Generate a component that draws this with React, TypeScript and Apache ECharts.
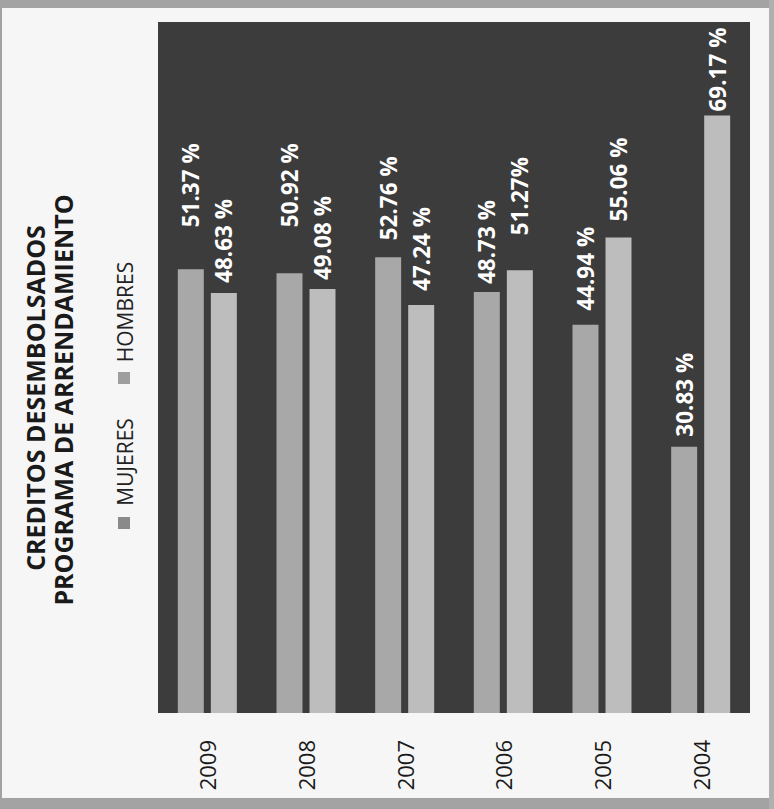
import React, { useEffect, useRef } from "react";
import * as echarts from "echarts";

const categories = ["2009", "2008", "2007", "2006", "2005", "2004"];
const mujeres = [51.37, 50.92, 52.76, 48.73, 44.94, 30.83];
const hombres = [48.63, 49.08, 47.24, 51.27, 55.06, 69.17];
const mujeresLabels = ["51.37 %", "50.92 %", "52.76 %", "48.73 %", "44.94 %", "30.83 %"];
const hombresLabels = ["48.63 %", "49.08 %", "47.24 %", "51.27%", "55.06 %", "69.17 %"];
const seriesNames = ["MUJERES", "HOMBRES"];
const titleLines = ["CREDITOS DESEMBOLSADOS", "PROGRAMA DE ARRENDAMIENTO"];

// label gap above each bar (layout only)
const mujeresGap = [42, 46, 17, 8, 14, 10];
const hombresGap = [10, 9, 14, 35, 16, 4];

const FONT = "'Open Sans', 'Noto Sans', sans-serif";
const COL_M = "#a8a8a8";
const COL_H = "#bdbdbd";

export default function App() {
  const ref = useRef<HTMLDivElement>(null);
  useEffect(() => {
    if (!ref.current) return;
    const chart = echarts.init(ref.current, undefined, { renderer: "svg" });
    const mkData = (vals: number[], labels: string[], gaps: number[]) =>
      vals.map((v, i) => ({
        value: v,
        label: { formatter: labels[i], distance: gaps[i] },
      }));
    const labelStyle = {
      show: true,
      position: "top",
      rotate: 90,
      align: "left",
      verticalAlign: "middle",
      color: "#ffffff",
      fontWeight: "bold",
      fontSize: 22.5,
      fontFamily: FONT,
    };
    chart.setOption({
      animation: false,
      backgroundColor: "#f6f6f6",
      grid: {
        left: 158,
        right: 24,
        top: 22,
        bottom: 96,
        show: true,
        backgroundColor: "#3c3c3c",
        borderWidth: 0,
      },
      xAxis: {
        type: "category",
        data: categories,
        axisLine: { show: false },
        axisTick: { show: false },
        axisLabel: {
          rotate: 90,
          margin: 27,
          fontSize: 22,
          fontFamily: FONT,
          color: "#1a1a1a",
        },
      },
      yAxis: {
        type: "value",
        min: 0,
        max: 80,
        show: false,
        splitLine: { show: false },
      },
      series: [
        {
          name: seriesNames[0],
          type: "bar",
          barWidth: 26,
          barGap: "27%",
          itemStyle: { color: COL_M },
          label: labelStyle,
          data: mkData(mujeres, mujeresLabels, mujeresGap),
        },
        {
          name: seriesNames[1],
          type: "bar",
          barWidth: 26,
          barGap: "27%",
          itemStyle: { color: COL_H },
          label: labelStyle,
          data: mkData(hombres, hombresLabels, hombresGap),
        },
      ],
      graphic: [
        { type: "rect", shape: { x: 0, y: 0, width: 774, height: 8 }, style: { fill: "#a3a3a3" }, silent: true },
        { type: "rect", shape: { x: 0, y: 798, width: 774, height: 11 }, style: { fill: "#a3a3a3" }, silent: true },
        { type: "rect", shape: { x: 0, y: 0, width: 2, height: 809 }, style: { fill: "#a3a3a3" }, silent: true },
        { type: "rect", shape: { x: 769, y: 0, width: 5, height: 809 }, style: { fill: "#b0b0b0" }, silent: true },
        {
          type: "text",
          x: 35,
          y: 398,
          rotation: Math.PI / 2,
          style: {
            text: titleLines[0],
            fill: "#1a1a1a",
            font: `bold 25px ${FONT}`,
            textAlign: "center",
            textVerticalAlign: "middle",
          },
        },
        {
          type: "text",
          x: 63,
          y: 400,
          rotation: Math.PI / 2,
          style: {
            text: titleLines[1],
            fill: "#1a1a1a",
            font: `bold 25px ${FONT}`,
            textAlign: "center",
            textVerticalAlign: "middle",
          },
        },
        { type: "rect", shape: { x: 118, y: 517, width: 12, height: 12 }, style: { fill: "#8a8a8a" } },
        {
          type: "text",
          x: 125,
          y: 462,
          rotation: Math.PI / 2,
          style: {
            text: seriesNames[0],
            fill: "#222222",
            font: `21px ${FONT}`,
            textAlign: "center",
            textVerticalAlign: "middle",
          },
        },
        { type: "rect", shape: { x: 118, y: 372, width: 12, height: 12 }, style: { fill: "#9e9e9e" } },
        {
          type: "text",
          x: 125,
          y: 312,
          rotation: Math.PI / 2,
          style: {
            text: seriesNames[1],
            fill: "#222222",
            font: `21px ${FONT}`,
            textAlign: "center",
            textVerticalAlign: "middle",
          },
        },
      ],
    });
    return () => chart.dispose();
  }, []);
  return (
    <div
      ref={ref}
      style={{ position: "fixed", left: 0, top: 0, width: 774, height: 809 }}
    />
  );
}
